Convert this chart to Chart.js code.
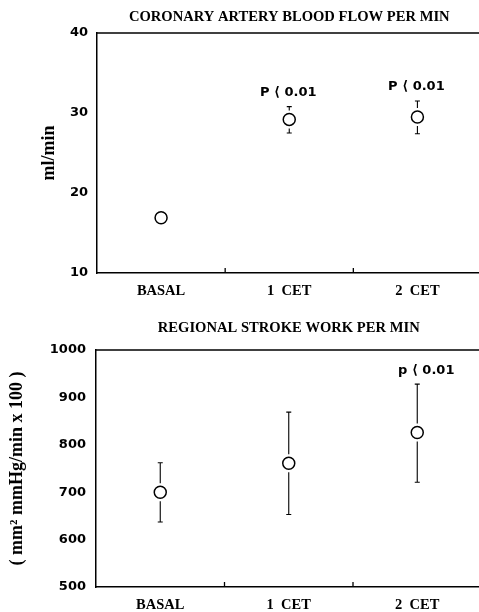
<!DOCTYPE html>
<html>
<head>
<meta charset="utf-8">
<script src="https://cdn.jsdelivr.net/npm/chart.js@4.4.1/dist/chart.umd.min.js"></script>
<style>
  html, body { margin: 0; padding: 0; background: #fff; overflow: hidden; }
  #wrap { position: relative; width: 479px; height: 612px; overflow: hidden; }
  .box { position: absolute; left: 0; width: 489px; }
</style>
</head>
<body>
<div id="wrap">
  <div class="box" style="top:0;height:300px"><canvas id="flowChart" width="489" height="300"></canvas></div>
  <div class="box" style="top:300px;height:312px"><canvas id="workChart" width="489" height="312"></canvas></div>
</div>
<script>
// categories shared by both panels
var categories = ['BASAL', '1  CET', '2  CET'];

// coronary artery blood flow (ml/min)
var flowMean = [16.9, 29.2, 29.5];
var flowLow  = [null, 27.5, 27.4];
var flowHigh = [null, 30.8, 31.5];
var flowNotes = ['', 'P \u27E8 0.01', 'P \u27E8 0.01'];
var flowTicks = [10, 20, 30, 40];

// regional stroke work (mm2 mmHg/min x 100)
var workMean = [700, 761, 826];
var workLow  = [637, 653, 721];
var workHigh = [762, 869, 928];
var workNotes = ['', '', 'p \u27E8 0.01'];
var workTicks = [500, 600, 700, 800, 900, 1000];

var serif = '"Liberation Serif", "Times New Roman", serif';
var sans = '"DejaVu Sans", sans-serif';

var extras = {
  id: 'extras',
  beforeDatasetsDraw: function(chart, args, opts) {
    var ctx = chart.ctx, x = chart.scales.x, y = chart.scales.y, a = chart.chartArea;
    ctx.save();
    ctx.strokeStyle = '#000';
    ctx.lineWidth = 1.3;
    // top frame line
    ctx.beginPath();
    ctx.moveTo(a.left, a.top);
    ctx.lineTo(a.right, a.top);
    ctx.stroke();
    // small inward ticks between categories
    for (var i = 0; i < categories.length - 1; i++) {
      var bx = (x.getPixelForValue(i) + x.getPixelForValue(i + 1)) / 2;
      ctx.beginPath();
      ctx.moveTo(bx, a.bottom);
      ctx.lineTo(bx, a.bottom - 5);
      ctx.stroke();
    }
    // error bars, with a gap around the marker
    ctx.lineWidth = 1.1;
    var r = 6, gap = 3;
    for (var j = 0; j < opts.mean.length; j++) {
      var px = x.getPixelForValue(j);
      var pm = y.getPixelForValue(opts.mean[j]);
      if (opts.high[j] != null) {
        var ph = y.getPixelForValue(opts.high[j]);
        ctx.beginPath();
        ctx.moveTo(px, ph);
        ctx.lineTo(px, Math.max(ph, pm - r - gap));
        ctx.moveTo(px - 2.5, ph);
        ctx.lineTo(px + 2.5, ph);
        ctx.stroke();
      }
      if (opts.low[j] != null) {
        var pl = y.getPixelForValue(opts.low[j]);
        ctx.beginPath();
        ctx.moveTo(px, pl);
        ctx.lineTo(px, Math.min(pl, pm + r + gap));
        ctx.moveTo(px - 2.5, pl);
        ctx.lineTo(px + 2.5, pl);
        ctx.stroke();
      }
      if (opts.notes[j]) {
        var top = opts.high[j] != null ? y.getPixelForValue(opts.high[j]) : pm - r;
        ctx.fillStyle = '#000';
        ctx.font = 'bold 13px ' + sans;
        ctx.textAlign = 'center';
        ctx.textBaseline = 'middle';
        ctx.fillText(opts.notes[j], px + opts.noteShift, top - 14);
      }
    }
    // panel title
    ctx.fillStyle = '#000';
    ctx.font = 'bold 14.6px ' + serif;
    ctx.textAlign = 'center';
    ctx.textBaseline = 'middle';
    ctx.fillText(opts.title, x.getPixelForValue(1), opts.titleY);
    ctx.restore();
  }
};

function makeChart(id, mean, low, high, notes, ticks, conf) {
  var ctx = document.getElementById(id).getContext('2d');
  return new Chart(ctx, {
    type: 'line',
    data: {
      labels: categories,
      datasets: [{
        data: mean,
        showLine: false,
        pointRadius: 6,
        pointBackgroundColor: '#fff',
        pointBorderColor: '#000',
        pointBorderWidth: 1.5
      }]
    },
    options: {
      responsive: false,
      animation: false,
      layout: { padding: { top: conf.padTop, left: 0, right: 1, bottom: 0 } },
      plugins: {
        legend: { display: false },
        tooltip: { enabled: false },
        extras: {
          mean: mean, low: low, high: high, notes: notes,
          title: conf.title, titleY: conf.titleY, noteShift: conf.noteShift
        }
      },
      scales: {
        x: {
          offset: true,
          grid: { display: false, offset: true, drawTicks: false },
          border: { display: true, color: '#000', width: 1.5 },
          ticks: { color: '#000', font: { family: serif, size: 14.5, weight: 'bold' }, padding: 10 },
          afterFit: function(s) { s.height = conf.xHeight; }
        },
        y: {
          min: ticks[0],
          max: ticks[ticks.length - 1],
          afterBuildTicks: function(s) { s.ticks = ticks.map(function(v) { return { value: v }; }); },
          grid: { display: false, drawTicks: false },
          border: { display: true, color: '#000', width: 1.5 },
          ticks: {
            color: '#000', font: { family: sans, size: 13, weight: 'bold' }, padding: conf.tickPad,
            callback: function(v) { return String(v); }
          },
          title: {
            display: true, text: conf.yTitle, color: '#000',
            font: { family: serif, size: 18, weight: 'bold' },
            padding: { top: conf.yTitlePad, bottom: 0 }
          },
          afterFit: function(s) { s.width = conf.yWidth; }
        }
      }
    },
    plugins: [extras]
  });
}

makeChart('flowChart', flowMean, flowLow, flowHigh, flowNotes, flowTicks, {
  title: 'CORONARY ARTERY BLOOD FLOW PER MIN', titleY: 17, padTop: 33,
  xHeight: 27, yWidth: 97, tickPad: 9, yTitle: 'ml/min', yTitlePad: 39, noteShift: -1
});
makeChart('workChart', workMean, workLow, workHigh, workNotes, workTicks, {
  title: 'REGIONAL STROKE WORK PER MIN', titleY: 28, padTop: 50,
  xHeight: 25, yWidth: 96, tickPad: 10, yTitle: '( mm\u00B2 mmHg/min x 100 )', yTitlePad: 7, noteShift: 9
});
</script>
</body>
</html>
